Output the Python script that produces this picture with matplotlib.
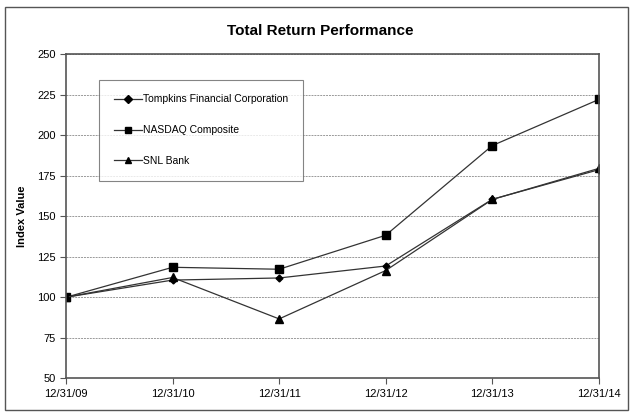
import matplotlib
matplotlib.use("Agg")
from matplotlib import pyplot as plt
from matplotlib.patches import Rectangle

plt.rcParams['font.family'] = ['Liberation Sans', 'DejaVu Sans']

# values
dates = ['12/31/09', '12/31/10', '12/31/11', '12/31/12', '12/31/13', '12/31/14']
tompkins = [100, 110.6, 111.9, 119.3, 160.5, 178.8]
nasdaq = [100, 118.5, 117.3, 138.3, 193.7, 222.2]
snl_bank = [100, 112.2, 86.6, 116.5, 160.4, 179.6]

fig = plt.figure(figsize=(6.35, 4.16), dpi=100)
ax = fig.add_axes([0.104, 0.091, 0.839, 0.778])

# outer border around the whole picture
fig.patches.append(Rectangle((0.008, 0.015), 0.981, 0.968, transform=fig.transFigure,
                             fill=False, edgecolor='#555555', linewidth=1.0))

x = list(range(len(dates)))
ax.plot(x, tompkins, color='#333333', lw=0.9, marker='D', ms=3.5, mfc='black', mec='black',
        label='Tompkins Financial Corporation')
ax.plot(x, nasdaq, color='#333333', lw=0.9, marker='s', ms=5.5, mfc='black', mec='black',
        label='NASDAQ Composite')
ax.plot(x, snl_bank, color='#333333', lw=0.9, marker='^', ms=5.5, mfc='black', mec='black',
        label='SNL Bank')

ax.set_xlim(0, len(dates) - 1)
ax.set_ylim(50, 250)
ax.set_xticks(x)
ax.set_xticklabels(dates, fontsize=8)
ax.set_yticks(range(50, 251, 25))
ax.tick_params(axis='y', labelsize=8, length=4, color='#555555')
ax.tick_params(axis='x', length=4, color='#555555')
ax.yaxis.grid(True, linestyle=(0, (2, 1)), color='#999999', linewidth=0.7)
ax.set_axisbelow(True)
for s in ax.spines.values():
    s.set_color('#555555')
    s.set_linewidth(1.2)

ax.set_ylabel('Index Value', fontsize=8, fontweight='bold', labelpad=7)
fig.text(0.504, 0.926, 'Total Return Performance', ha='center', va='center',
         fontsize=11, fontweight='bold')

leg = ax.legend(loc='upper left', bbox_to_anchor=(0.062, 0.922), fontsize=7.5,
                frameon=True, fancybox=False, edgecolor='#666666', labelspacing=2.0,
                borderpad=1.4, handlelength=2.7, handletextpad=0.15, borderaxespad=0)
leg.get_frame().set_linewidth(0.8)
for h in leg.legend_handles:
    h.set_markersize(4)

fig.savefig('out.png', dpi=100)
